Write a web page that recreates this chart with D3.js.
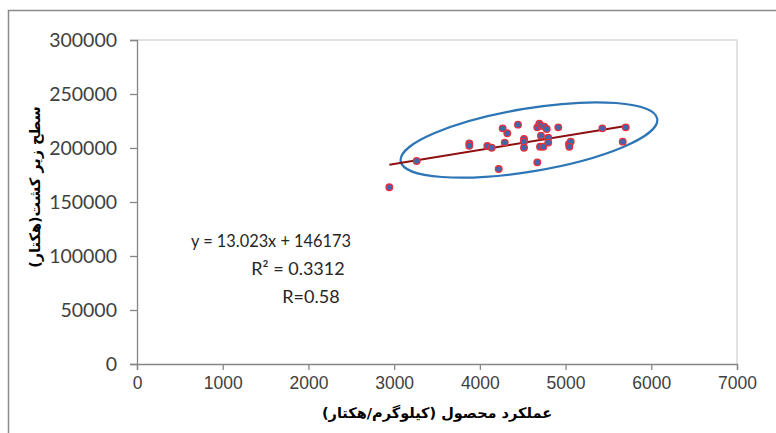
<!DOCTYPE html>
<html>
<head>
<meta charset="utf-8">
<script src="https://cdn.jsdelivr.net/npm/d3@7"></script>
<style>
  body { margin: 0; background: #fff; }
  .yax text { font-family: Lato, "Open Sans", sans-serif; font-size: 19.5px; fill: #404040; }
  .xax text { font-family: "Liberation Sans Narrow", "Liberation Sans", sans-serif; font-size: 17.5px; fill: #404040; }
  .eq { font-family: Lato, "Open Sans", sans-serif; font-size: 18px; fill: #262626; }
  .title { font-family: "DejaVu Sans", sans-serif; font-weight: bold; font-size: 14.5px; fill: #000; }
</style>
</head>
<body>
<div id="chart"></div>
<script>
// yield (kg/ha) vs cultivated area (ha)
const yieldKg = [2944, 3263, 3877, 3877, 4087, 4138, 4220, 4266, 4320, 4290, 4445, 4515, 4515, 4515,
  4670, 4670, 4694, 4713, 4713, 4702, 4740, 4752, 4780, 4798, 4798, 4915, 5040, 5060, 5044, 5429, 5667, 5702];
const areaHa = [163600, 188000, 204300, 202100, 201800, 200300, 180500, 218200, 213600, 205000, 221600, 208300, 205900, 200300,
  186700, 219100, 222500, 220700, 211400, 201200, 201200, 219800, 217600, 209600, 205000, 219100, 203700, 205900, 201200, 218200, 205900, 219100];
const xTicks = [0, 1000, 2000, 3000, 4000, 5000, 6000, 7000];
const yTicks = [0, 50000, 100000, 150000, 200000, 250000, 300000];
const slope = 13.023, intercept = 146173;
const eqLines = ['y = 13.023x + 146173', 'R² = 0.3312', 'R=0.58'];
const ellipseCenter = [4573, 207400];

const W = 776, H = 433;
const pad = {l: 137, r: 39, t: 40, b: 69};

const svg = d3.select('#chart').append('svg').attr('width', W).attr('height', H);

// outer chart frame
svg.append('rect')
  .attr('x', 8.5).attr('y', 10.5)
  .attr('width', W).attr('height', H)
  .attr('fill', 'none').attr('stroke', '#8a8a8a').attr('stroke-width', 1.5);

const x = d3.scaleLinear().domain([0, 7000]).range([pad.l, W - pad.r]);
const y = d3.scaleLinear().domain([0, 300000]).range([H - pad.b, pad.t]);

// plot area top/right border
svg.append('path')
  .attr('d', `M${x(0)},${y(300000)}H${x(7000)}V${y(0)}`)
  .attr('fill', 'none').attr('stroke', '#d9d9d9').attr('stroke-width', 1.5);

const xg = svg.append('g').attr('class', 'xax')
  .attr('transform', `translate(0,${y(0)})`)
  .call(d3.axisBottom(x).tickValues(xTicks).tickSize(6).tickPadding(4).tickFormat(d3.format('d')));
const yg = svg.append('g').attr('class', 'yax')
  .attr('transform', `translate(${x(0)},0)`)
  .call(d3.axisLeft(y).tickValues(yTicks).tickSize(7).tickPadding(13).tickFormat(d3.format('d')));
[xg, yg].forEach(g => {
  g.select('.domain').attr('stroke', '#868686').attr('stroke-width', 1.3);
  g.selectAll('.tick line').attr('stroke', '#868686').attr('stroke-width', 1.3);
});
xg.selectAll('text').attr('dy', '0.85em');

// ellipse annotation
svg.append('ellipse')
  .attr('transform', `translate(${x(ellipseCenter[0])},${y(ellipseCenter[1])}) rotate(-9.4)`)
  .attr('rx', 130).attr('ry', 31.5)
  .attr('fill', 'none').attr('stroke', '#2e75b6').attr('stroke-width', 2.2);

// trendline
const x0 = d3.min(yieldKg), x1 = d3.max(yieldKg);
svg.append('line')
  .attr('x1', x(x0)).attr('y1', y(slope * x0 + intercept))
  .attr('x2', x(x1)).attr('y2', y(slope * x1 + intercept))
  .attr('stroke', '#8e0f0f').attr('stroke-width', 2);

// points
svg.append('g').selectAll('circle')
  .data(yieldKg.map((v, i) => [v, areaHa[i]]))
  .join('circle')
  .attr('cx', d => x(d[0])).attr('cy', d => y(d[1]))
  .attr('r', 3.3)
  .attr('fill', '#3f67b0').attr('stroke', '#e8303a').attr('stroke-width', 1.3);

// equation text (centred per line like the original label box)
const eqX = [271, 298, 311];
svg.append('g').selectAll('text')
  .data(eqLines)
  .join('text')
  .attr('class', 'eq')
  .attr('x', (d, i) => eqX[i])
  .attr('y', (d, i) => 247 + i * 28)
  .attr('text-anchor', 'middle')
  .each(function(d, i) {
    if (i === 0) d3.select(this).attr('textLength', 160).attr('lengthAdjust', 'spacingAndGlyphs');
  })
  .text(d => d);

// axis titles
svg.append('text').attr('class', 'title')
  .attr('x', 437).attr('y', 418)
  .attr('text-anchor', 'middle').attr('direction', 'rtl')
  .text('عملکرد محصول (کیلوگرم/هکتار)');
svg.append('text').attr('class', 'title')
  .attr('transform', 'translate(40,187) rotate(-90)')
  .attr('text-anchor', 'middle').attr('direction', 'rtl')
  .text('سطح زیر کشت(هکتار)');
</script>
</body>
</html>
